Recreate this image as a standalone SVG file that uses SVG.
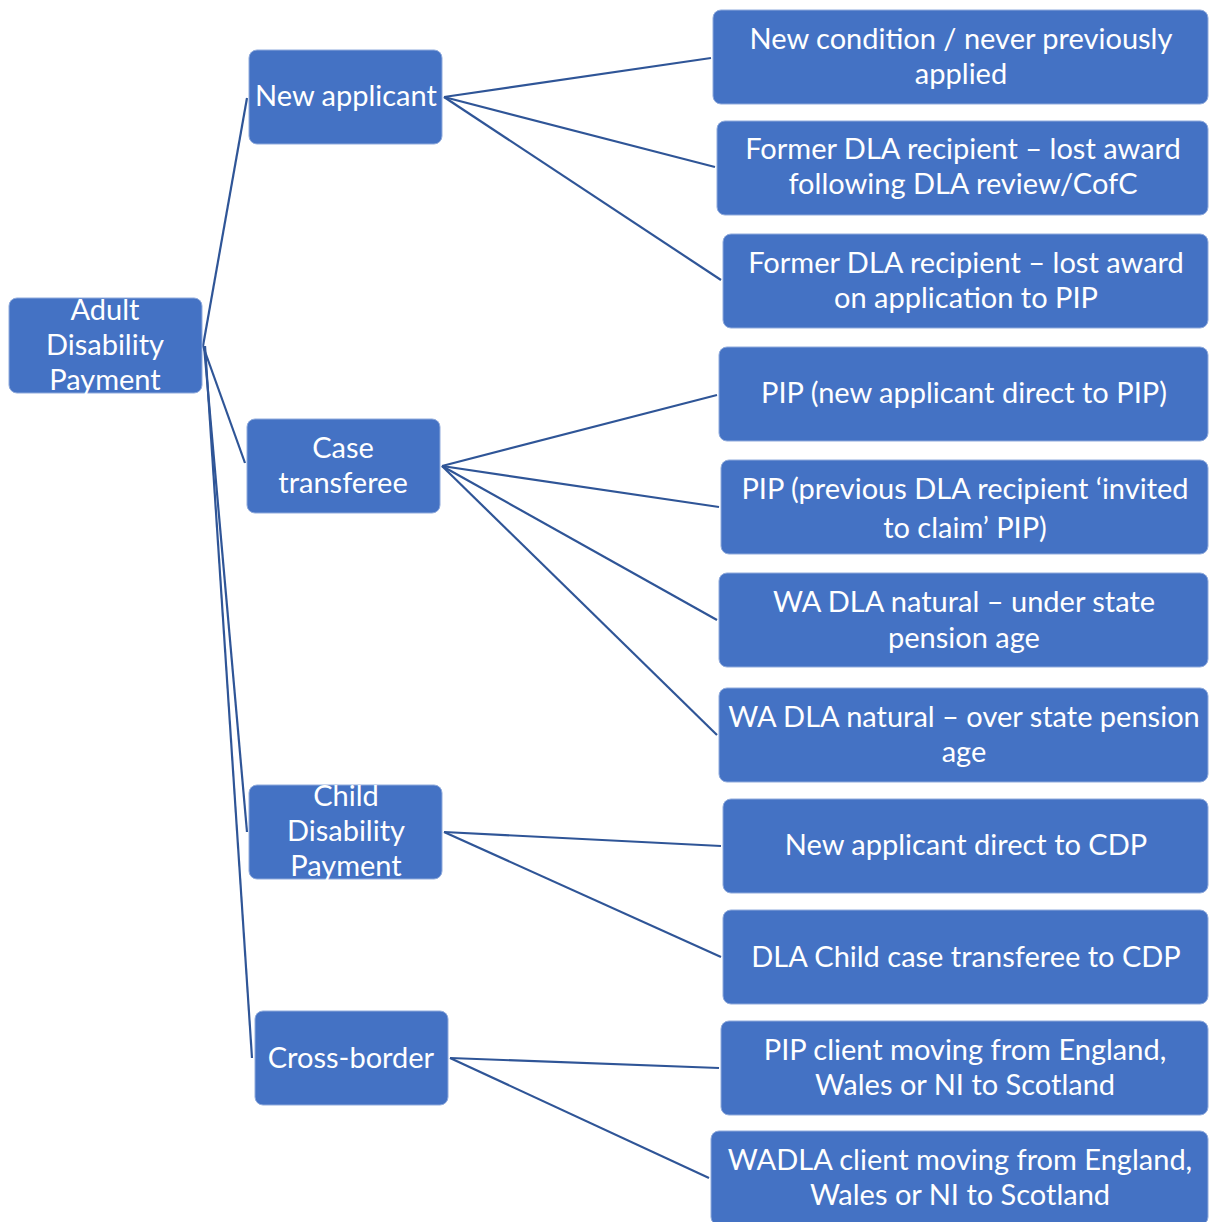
<svg xmlns="http://www.w3.org/2000/svg" width="1209" height="1222" viewBox="0 0 1209 1222">
<style>
.n{fill:#4472C4;stroke:#8FAADC;stroke-width:1}
.t{fill:#fff;font-family:Lato,"Liberation Sans",sans-serif;font-size:29px;text-anchor:middle}
.c{stroke:#2F5597;stroke-width:2.2;fill:none}
</style>
<rect width="1209" height="1222" fill="#fff"/>
<g id="connectors">
<line class="c" x1="203" y1="346" x2="247" y2="98"/>
<line class="c" x1="203" y1="346" x2="245" y2="463"/>
<line class="c" x1="204" y1="346" x2="247" y2="832"/>
<line class="c" x1="205" y1="346" x2="252" y2="1058"/>
<line class="c" x1="444" y1="97" x2="711" y2="58"/>
<line class="c" x1="444" y1="97" x2="715" y2="167"/>
<line class="c" x1="444" y1="97" x2="721" y2="280"/>
<line class="c" x1="442" y1="466" x2="717" y2="395"/>
<line class="c" x1="442" y1="466" x2="719" y2="507"/>
<line class="c" x1="442" y1="466" x2="717" y2="620"/>
<line class="c" x1="442" y1="466" x2="717" y2="735"/>
<line class="c" x1="444" y1="832" x2="721" y2="846"/>
<line class="c" x1="444" y1="832" x2="721" y2="957"/>
<line class="c" x1="450" y1="1058" x2="719" y2="1068"/>
<line class="c" x1="450" y1="1058" x2="709" y2="1178"/>
</g>
<g id="adult"><rect class="n" x="9" y="298" width="193" height="95" rx="8"/><text class="t" x="105" y="320">Adult</text><text class="t" x="105" y="355">Disability</text><text class="t" x="105" y="390">Payment</text></g>
<g id="new-applicant"><rect class="n" x="249" y="50" width="193" height="94" rx="8"/><text class="t" x="346" y="106">New applicant</text></g>
<g id="case-transferee"><rect class="n" x="247" y="419" width="193" height="94" rx="8"/><text class="t" x="343" y="458">Case</text><text class="t" x="343" y="493">transferee</text></g>
<g id="child"><rect class="n" x="249" y="785" width="193" height="94" rx="8"/><text class="t" x="346" y="806">Child</text><text class="t" x="346" y="841">Disability</text><text class="t" x="346" y="876">Payment</text></g>
<g id="cross-border"><rect class="n" x="255" y="1011" width="193" height="94" rx="8"/><text class="t" x="351" y="1068">Cross-border</text></g>
<g id="r1"><rect class="n" x="713" y="10" width="495" height="94" rx="8"/><text class="t" x="961" y="49">New condition / never previously</text><text class="t" x="961" y="84">applied</text></g>
<g id="r2"><rect class="n" x="717" y="121" width="491" height="94" rx="8"/><text class="t" x="963" y="159">Former DLA recipient – lost award</text><text class="t" x="963" y="194">following DLA review/CofC</text></g>
<g id="r3"><rect class="n" x="723" y="234" width="485" height="94" rx="8"/><text class="t" x="966" y="273">Former DLA recipient – lost award</text><text class="t" x="966" y="308">on application to PIP</text></g>
<g id="r4"><rect class="n" x="719" y="347" width="489" height="94" rx="8"/><text class="t" x="964" y="403">PIP (new applicant direct to PIP)</text></g>
<g id="r5"><rect class="n" x="721" y="460" width="487" height="94" rx="8"/><text class="t" x="965" y="499">PIP (previous DLA recipient ‘invited</text><text class="t" x="965" y="538">to claim’ PIP)</text></g>
<g id="r6"><rect class="n" x="719" y="573" width="489" height="94" rx="8"/><text class="t" x="964" y="612">WA DLA natural  – under state</text><text class="t" x="964" y="648">pension age</text></g>
<g id="r7"><rect class="n" x="719" y="688" width="489" height="94" rx="8"/><text class="t" x="964" y="727">WA DLA natural – over state pension</text><text class="t" x="964" y="762">age</text></g>
<g id="r8"><rect class="n" x="723" y="799" width="485" height="94" rx="8"/><text class="t" x="966" y="855">New applicant direct to CDP</text></g>
<g id="r9"><rect class="n" x="723" y="910" width="485" height="94" rx="8"/><text class="t" x="966" y="967">DLA Child case transferee to CDP</text></g>
<g id="r10"><rect class="n" x="721" y="1021" width="487" height="94" rx="8"/><text class="t" x="965" y="1060">PIP client moving from England,</text><text class="t" x="965" y="1095">Wales or NI to Scotland</text></g>
<g id="r11"><rect class="n" x="711" y="1131" width="497" height="94" rx="8"/><text class="t" x="960" y="1170">WADLA client moving from England,</text><text class="t" x="960" y="1205">Wales or NI to Scotland</text></g>
</svg>
